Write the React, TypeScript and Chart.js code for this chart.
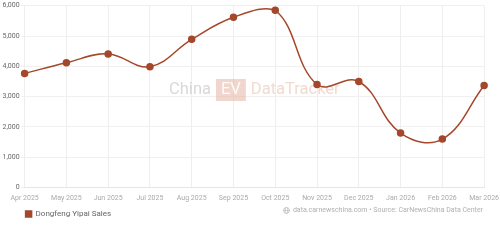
import React, { useEffect, useRef } from "react";
import { Chart, registerables } from "chart.js";

Chart.register(...registerables);

const categories = ["Apr 2025","May 2025","Jun 2025","Jul 2025","Aug 2025","Sep 2025","Oct 2025","Nov 2025","Dec 2025","Jan 2026","Feb 2026","Mar 2026"];
const salesValues = [3767, 4120, 4410, 3990, 4890, 5620, 5850, 3400, 3500, 1800, 1600, 3370];
const seriesLabel = "Dongfeng Yipai Sales";
const sourceText = "data.carnewschina.com • Source: CarNewsChina Data Center";

const LINE_COLOR = "#A4472A";
const FONT = "Roboto, 'Noto Sans', sans-serif";
const LEGEND_PAD = 7;

const watermark = {
  id: "watermark",
  beforeDatasetsDraw(chart: any) {
    const { ctx, chartArea } = chart;
    const cx = (chartArea.left + chartArea.right) / 2;
    const cy = 90;
    ctx.save();
    ctx.font = `16.5px ${FONT}`;
    ctx.textBaseline = "middle";
    const w1 = ctx.measureText("China").width;
    const w2 = ctx.measureText("EV").width;
    const w3 = ctx.measureText("DataTracker").width;
    const gap = 5;
    const boxPad = 5;
    const total = w1 + gap + (w2 + boxPad * 2) + gap + w3;
    let x = cx - total / 2;
    ctx.fillStyle = "rgba(200,200,200,0.7)";
    ctx.fillText("China", x, cy);
    x += w1 + gap;
    ctx.fillStyle = "rgba(230,180,165,0.55)";
    ctx.fillRect(x, cy - 11, w2 + boxPad * 2, 22);
    ctx.fillStyle = "rgba(255,255,255,0.9)";
    ctx.fillText("EV", x + boxPad, cy);
    x += w2 + boxPad * 2 + gap;
    ctx.fillStyle = "rgba(230,185,170,0.55)";
    ctx.fillText("DataTracker", x, cy);
    ctx.restore();
  },
};

const legendShift = {
  id: "legendShift",
  afterLayout(chart: any) {
    if (chart.legend) {
      chart.legend.left = chart.chartArea.left + 1 - LEGEND_PAD;
    }
  },
};

export default function App() {
  const ref = useRef<HTMLCanvasElement>(null);
  useEffect(() => {
    document.body.style.margin = "0";
    const chart = new Chart(ref.current!, {
      type: "line",
      data: {
        labels: categories,
        datasets: [
          {
            label: seriesLabel,
            data: salesValues,
            borderColor: LINE_COLOR,
            backgroundColor: LINE_COLOR,
            pointBackgroundColor: LINE_COLOR,
            pointBorderColor: LINE_COLOR,
            pointRadius: 3,
            borderWidth: 1.5,
            tension: 0.4,
            fill: false,
          },
        ],
      },
      options: {
        animation: false,
        responsive: false,
        maintainAspectRatio: false,
        layout: { padding: { left: 1, right: 0, top: 5.7, bottom: 14 } },
        plugins: {
          legend: {
            position: "bottom",
            align: "start",
            labels: {
              boxWidth: 6,
              boxHeight: 6,
              padding: LEGEND_PAD,
              color: "#666",
              font: { family: FONT, size: 8 },
            },
          },
          tooltip: { enabled: false },
        },
        scales: {
          x: {
            grid: { color: "#eeeeee", drawTicks: true, tickLength: 5, tickColor: "rgba(0,0,0,0)" },
            border: { color: "#e6e6e6" },
            ticks: { color: "#aaa", font: { family: FONT, size: 7 }, padding: 1, maxRotation: 0, autoSkip: false },
          },
          y: {
            min: 0,
            max: 6000,
            grid: { color: "#f0f0f0", drawTicks: true, tickLength: 3.5, tickColor: "#f0f0f0" },
            border: { display: false },
            ticks: {
              stepSize: 1000,
              color: "#666",
              font: { family: FONT, size: 7 },
              padding: 1.5,
              callback: (v: any) => Number(v).toLocaleString("en-US"),
            },
          },
        },
      },
      plugins: [watermark, legendShift],
    });
    return () => chart.destroy();
  }, []);
  return (
    <div style={{ position: "relative", width: 500, height: 242 }}>
      <canvas ref={ref} width={500} height={242} style={{ display: "block" }} />
      <div
        style={{
          position: "absolute",
          right: 17,
          top: 206,
          fontFamily: FONT,
          fontSize: 7,
          color: "#b0b0b0",
          display: "flex",
          alignItems: "center",
          gap: 3,
        }}
      >
        <svg width="7" height="7" viewBox="0 0 10 10">
          <circle cx="5" cy="5" r="4.2" fill="none" stroke="#b0b0b0" strokeWidth="1" />
          <ellipse cx="5" cy="5" rx="1.8" ry="4.2" fill="none" stroke="#b0b0b0" strokeWidth="0.8" />
          <line x1="0.8" y1="5" x2="9.2" y2="5" stroke="#b0b0b0" strokeWidth="0.8" />
        </svg>
        <span>{sourceText}</span>
      </div>
    </div>
  );
}
